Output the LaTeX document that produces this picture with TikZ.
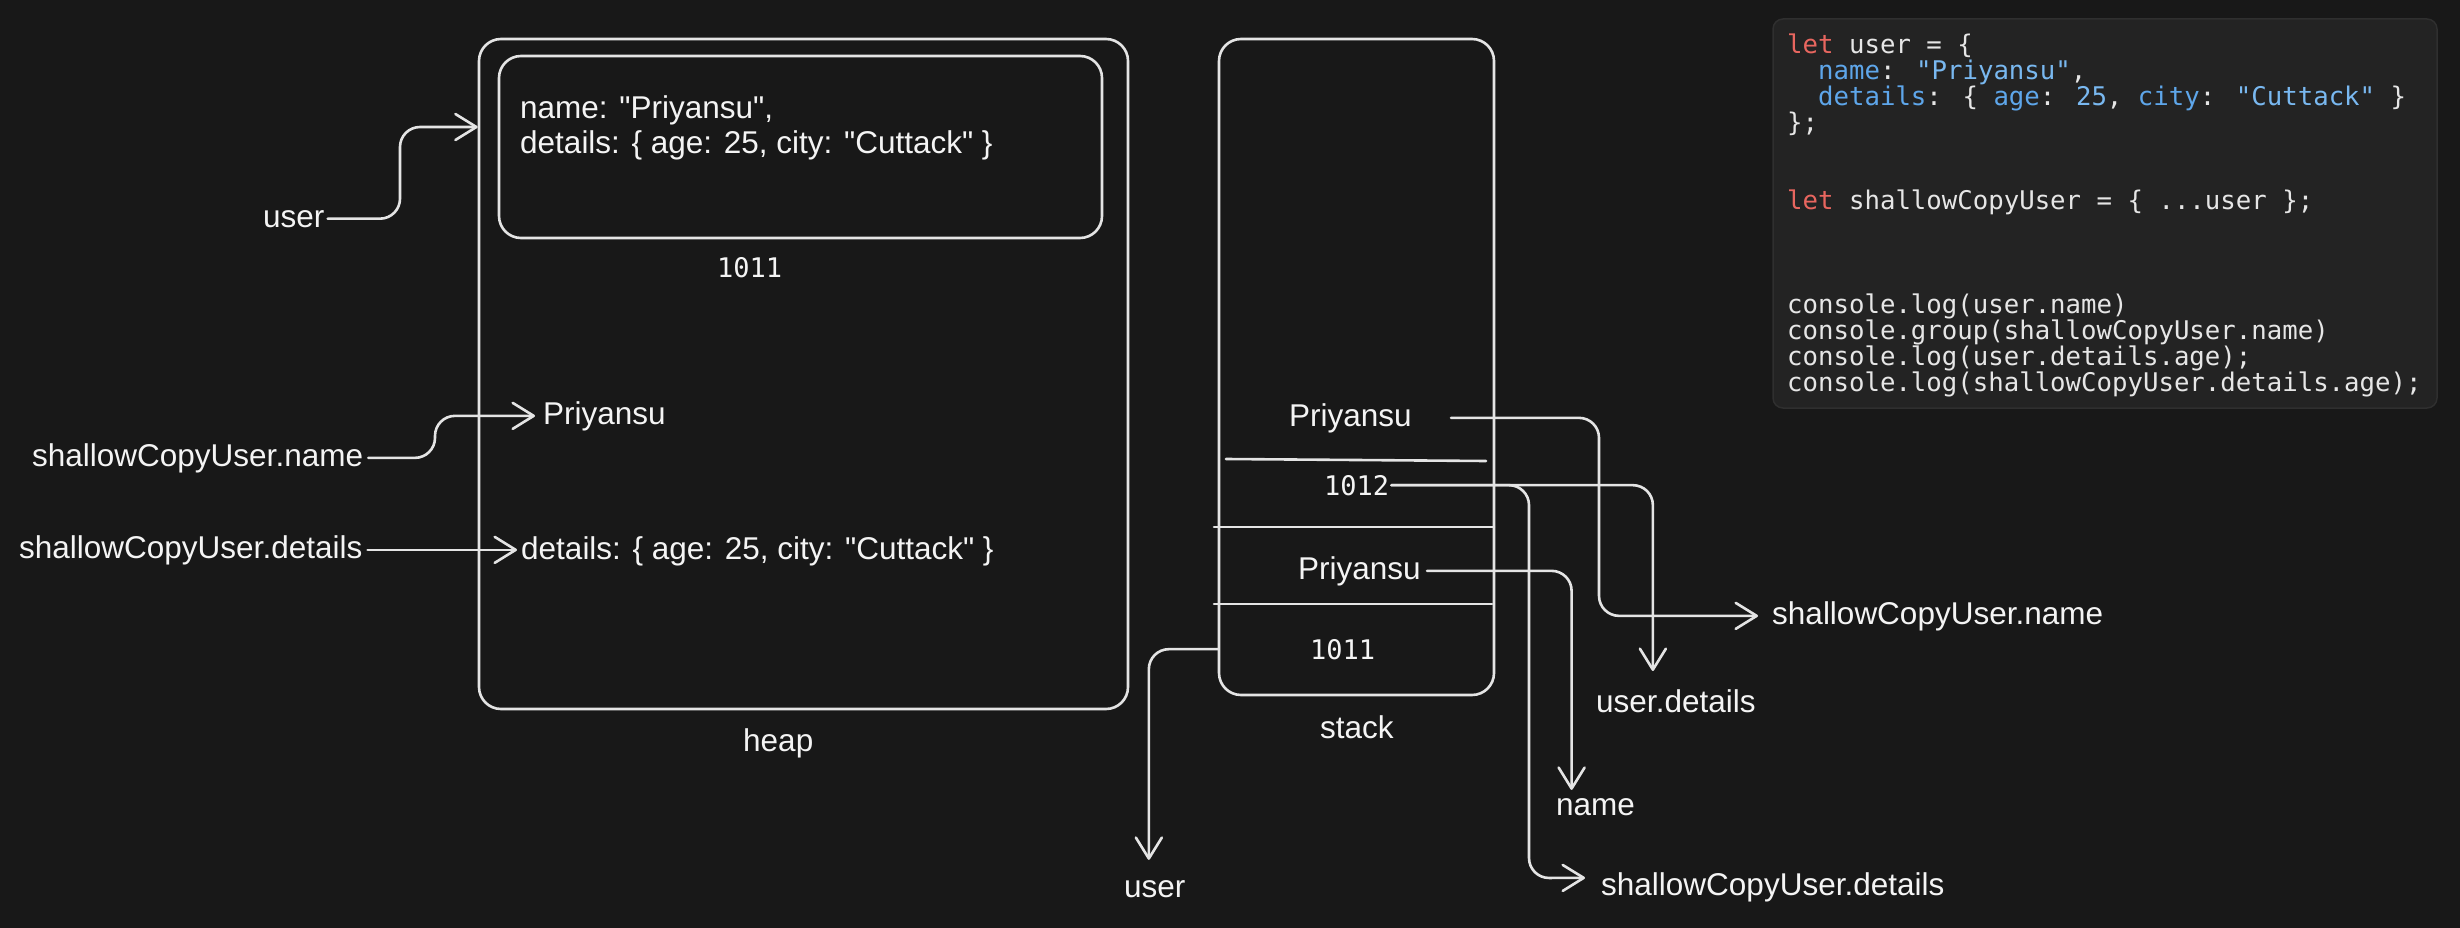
\documentclass[tikz,border=0pt]{standalone}
\usepackage{fontspec}
\usetikzlibrary{arrows.meta}

\newfontfamily\labelfont{Liberation Sans}
\newfontfamily\codefont{DejaVu Sans Mono}

\definecolor{bg}{HTML}{181818}
\definecolor{ink}{HTML}{E4E4E4}
\definecolor{txt}{HTML}{F4F4F4}
\definecolor{codebg}{HTML}{232323}
\definecolor{codeedge}{HTML}{2F2F2F}
\definecolor{codetxt}{HTML}{E6E6E6}
\definecolor{kw}{HTML}{E8665F}
\definecolor{key}{HTML}{5EA6EA}
\definecolor{str}{HTML}{79B8F0}

\tikzset{
	lbl/.style={font=\labelfont\fontsize{31.5}{35}\selectfont, text=txt, inner sep=0pt, anchor=base west},
	addr/.style={font=\codefont\fontsize{27}{30}\selectfont, text=txt, inner sep=0pt, anchor=base west},
	frame/.style={draw=ink, line width=2.6pt, rounded corners=22pt, inner sep=0pt},
	cell/.style={draw=ink, line width=2.6pt, line cap=round},
	link/.style={draw=ink, line width=2.6pt, rounded corners=20pt, line cap=round, line join=round, -{Straight Barb[length=21pt,width=26pt,round]}}
}

\begin{document}
\begin{tikzpicture}[x=1pt,y=-1pt]
	\fill[bg] (0,0) rectangle (2460,928);

	% heap
	\node[frame, minimum width=649pt, minimum height=670pt] (heap) at (803.5,374) {};
	\node[frame, minimum width=603pt, minimum height=182pt] (obj) at (800.5,147) {};
	% base of a two line node is its last line
	\node[lbl, align=left] (objTxt) at (520,154) {name: "Priyansu",\\details: \{ age: 25, city: "Cuttack" \}};
	\node[addr] (h1011) at (717,277) {1011};
	\node[lbl] (hPri) at (543,424) {Priyansu};
	\node[lbl] (hDet) at (521,559) {details: \{ age: 25, city: "Cuttack" \}};
	\node[lbl] (heapL) at (743,751) {heap};

	\node[lbl] (userL) at (263,227) {user};
	\node[lbl] (lName) at (32,466) {shallowCopyUser.name};
	\node[lbl] (lDet) at (19,558) {shallowCopyUser.details};

	\draw[link, shorten <=3pt] (userL.east) -| (400,127) -- (heap.west |- 0,127);
	\draw[link, shorten <=5pt] (lName.east) -| (435,0 |- hPri.west) -- ([xshift=-8pt]hPri.west);
	\draw[link, shorten <=5pt, shorten >=4pt] (lDet.east) -- (lDet.east -| hDet.west);

	% stack
	\node[frame, minimum width=275pt, minimum height=656pt] (stack) at (1356.5,367) {};
	\draw[cell] (1226,459) -- (1486,461);
	\draw[cell] (1214,527) -- (1494,527);
	\draw[cell] (1214,604) -- (1492,604);
	\node[lbl] (sPri1) at (1289,426) {Priyansu};
	\node[addr] (s1012) at (1324,495) {1012};
	\node[lbl] (sPri2) at (1298,579) {Priyansu};
	\node[addr] (s1011) at (1310,659) {1011};
	\node[lbl] (stackL) at (1320,738) {stack};

	\node[lbl] (rName) at (1772,624) {shallowCopyUser.name};
	\node[lbl] (uDet) at (1596,712) {user.details};
	\node[lbl] (nameR) at (1556,815) {name};
	\node[lbl] (rDet) at (1601,895) {shallowCopyUser.details};
	\node[lbl] (uBot) at (1124,897) {user};

	\draw[link] ([xshift=39pt]sPri1.east) -| (1599,0 |- rName.west) -- ([xshift=-14pt]rName.west);
	\draw[link, shorten <=2pt, shorten >=18pt] (s1012.east) -| ([xshift=-23pt]uDet.north);
	\draw[link, shorten <=2pt] (s1012.east) -| (1529,878) -- ([shift={(-16pt,9pt)}]rDet.west);
	\draw[link, shorten <=6pt, shorten >=8pt] (sPri2.east) -| ([xshift=-24pt]nameR.north);
	\draw[link, shorten >=20pt] (stack.west |- s1011.west) -| ([xshift=-6pt]uBot.north);

	% code
	\node[draw=codeedge, fill=codebg, line width=1.5pt, rounded corners=10pt, minimum width=664pt, minimum height=389pt] (codebox) at (2105,213.5) {};
	\node[font=\codefont\fontsize{25.7}{26}\selectfont, text=codetxt, align=left, inner sep=0pt, anchor=base west] (code) at (1787,391) {%
		\textcolor{kw}{let} user = \{\\
		\phantom{xx}\textcolor{key}{name}: \textcolor{str}{"Priyansu"},\\
		\phantom{xx}\textcolor{key}{details}: \{ \textcolor{key}{age}: \textcolor{str}{25}, \textcolor{key}{city}: \textcolor{str}{"Cuttack"} \}\\
		\};\\
		\\
		\\
		\textcolor{kw}{let} shallowCopyUser = \{ ...user \};\\
		\\
		\\
		\\
		console.log(user.name)\\
		console.group(shallowCopyUser.name)\\
		console.log(user.details.age);\\
		console.log(shallowCopyUser.details.age);};
\end{tikzpicture}
\end{document}
